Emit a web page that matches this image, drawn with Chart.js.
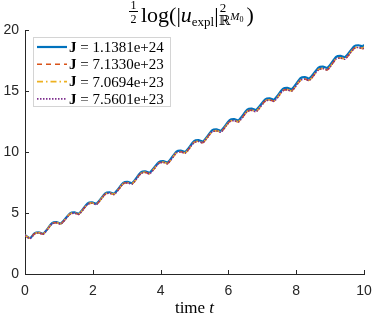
<!DOCTYPE html>
<html>
<head>
<meta charset="utf-8">
<script src="https://cdn.jsdelivr.net/npm/chart.js@4/dist/chart.umd.min.js"></script>
<style>
    html, body { margin: 0; padding: 0; background: #fff; }
    #wrap { width: 374px; height: 321px; position: relative; }
</style>
</head>
<body>
<div id="wrap"><canvas id="growth-chart"></canvas></div>
<script>
// time samples (shared by all four runs)
const times = [
    0, 0.15,
    0.28, 0.41, 0.54,
    0.80, 0.93, 1.06,
    1.33, 1.46, 1.59,
    1.85, 1.98, 2.11,
    2.37, 2.50, 2.63,
    2.90, 3.03, 3.16,
    3.42, 3.55, 3.68,
    3.95, 4.08, 4.21,
    4.47, 4.60, 4.73,
    4.99, 5.12, 5.25,
    5.52, 5.65, 5.78,
    6.04, 6.17, 6.30,
    6.56, 6.69, 6.82,
    7.09, 7.22, 7.35,
    7.61, 7.74, 7.87,
    8.13, 8.26, 8.39,
    8.66, 8.79, 8.92,
    9.18, 9.31, 9.44,
    9.71, 9.84, 9.97,
    10.0
];

// 1/2 log(|u_expl|^2) for each J
const seriesJ1 = [
    3.20, 2.95,
    3.33, 3.41, 3.31,
    4.17, 4.25, 4.15,
    4.97, 5.05, 4.95,
    5.79, 5.87, 5.77,
    6.62, 6.70, 6.60,
    7.47, 7.55, 7.45,
    8.33, 8.41, 8.31,
    9.17, 9.25, 9.15,
    10.04, 10.12, 10.02,
    10.89, 10.97, 10.87,
    11.77, 11.85, 11.75,
    12.62, 12.70, 12.60,
    13.47, 13.55, 13.45,
    14.32, 14.40, 14.30,
    15.17, 15.25, 15.15,
    16.05, 16.13, 16.03,
    16.92, 17.00, 16.90,
    17.80, 17.88, 17.78,
    18.67, 18.75, 18.65,
    18.80
];
const seriesJ2 = [
    3.18, 2.92,
    3.30, 3.38, 3.28,
    4.13, 4.21, 4.11,
    4.92, 5.00, 4.90,
    5.73, 5.81, 5.71,
    6.55, 6.63, 6.53,
    7.40, 7.48, 7.38,
    8.25, 8.33, 8.23,
    9.08, 9.16, 9.06,
    9.94, 10.02, 9.92,
    10.79, 10.87, 10.77,
    11.66, 11.74, 11.64,
    12.50, 12.58, 12.48,
    13.34, 13.42, 13.32,
    14.19, 14.27, 14.17,
    15.03, 15.11, 15.01,
    15.90, 15.98, 15.88,
    16.76, 16.84, 16.74,
    17.64, 17.72, 17.62,
    18.50, 18.58, 18.48,
    18.62
];
const seriesJ3 = [
    3.19, 2.93,
    3.31, 3.39, 3.29,
    4.14, 4.22, 4.12,
    4.93, 5.01, 4.91,
    5.74, 5.82, 5.72,
    6.56, 6.64, 6.54,
    7.41, 7.49, 7.39,
    8.26, 8.34, 8.24,
    9.09, 9.17, 9.07,
    9.95, 10.03, 9.93,
    10.80, 10.88, 10.78,
    11.67, 11.75, 11.65,
    12.51, 12.59, 12.49,
    13.35, 13.43, 13.33,
    14.20, 14.28, 14.18,
    15.04, 15.12, 15.02,
    15.91, 15.99, 15.89,
    16.77, 16.85, 16.75,
    17.65, 17.73, 17.63,
    18.51, 18.59, 18.49,
    18.63
];
const seriesJ4 = [
    3.17, 2.91,
    3.29, 3.37, 3.27,
    4.12, 4.20, 4.10,
    4.91, 4.99, 4.89,
    5.72, 5.80, 5.70,
    6.54, 6.62, 6.52,
    7.39, 7.47, 7.37,
    8.24, 8.32, 8.22,
    9.07, 9.15, 9.05,
    9.93, 10.01, 9.91,
    10.78, 10.86, 10.76,
    11.65, 11.73, 11.63,
    12.49, 12.57, 12.47,
    13.33, 13.41, 13.31,
    14.18, 14.26, 14.16,
    15.02, 15.10, 15.00,
    15.89, 15.97, 15.87,
    16.75, 16.83, 16.73,
    17.63, 17.71, 17.61,
    18.49, 18.57, 18.47,
    18.61
];

const jValues = ['1.1381e+24', '7.1330e+23', '7.0694e+23', '7.5601e+23'];
const xTicks = [0, 2, 4, 6, 8, 10];
const yTicks = [0, 5, 10, 15, 20];

const SERIF = '"Liberation Serif", "DejaVu Serif", serif';
const SANS = '"Liberation Sans", Arial, sans-serif';
const AXIS_COLOR = '#262626';

function toPoints(values) {
    return times.map((t, i) => ({ x: t, y: values[i] }));
}

// MATLAB-style inward ticks on left and bottom axes
const inwardTicks = {
    id: 'inwardTicks',
    afterDraw(chart) {
        const { ctx, chartArea, scales } = chart;
        ctx.save();
        ctx.strokeStyle = AXIS_COLOR;
        ctx.lineWidth = 1;
        ctx.beginPath();
        xTicks.forEach(v => {
            const px = Math.round(scales.x.getPixelForValue(v)) + 0.5;
            ctx.moveTo(px, chartArea.bottom);
            ctx.lineTo(px, chartArea.bottom - 4);
        });
        yTicks.forEach(v => {
            const py = Math.round(scales.y.getPixelForValue(v)) + 0.5;
            ctx.moveTo(chartArea.left, py);
            ctx.lineTo(chartArea.left + 4, py);
        });
        ctx.stroke();
        ctx.restore();
    }
};

// title and x label with LaTeX-ish math
const mathText = {
    id: 'mathText',
    afterDraw(chart) {
        const ctx = chart.ctx;
        ctx.save();
        ctx.fillStyle = '#000';
        ctx.textBaseline = 'alphabetic';

        // 1/2 fraction
        ctx.font = `12px ${SERIF}`;
        ctx.textAlign = 'center';
        ctx.fillText('1', 133.5, 9);
        ctx.fillRect(129, 11, 9, 1);
        ctx.fillText('2', 133.5, 23);

        ctx.textAlign = 'left';
        const base = 22;
        let x = 141;
        const put = (txt, font, dy) => {
            ctx.font = font;
            ctx.fillText(txt, x, base + dy);
            x += ctx.measureText(txt).width;
        };
        put('log(|', `22px ${SERIF}`, 0);
        put('u', `italic 22px ${SERIF}`, 0);
        put('expl', `13px ${SERIF}`, 4);
        put('|', `22px ${SERIF}`, 0);
        ctx.font = `13px ${SERIF}`;
        ctx.fillText('2', x + 1, base - 10);
        put('\u211D', `14px ${SERIF}`, 3);
        put('M', `italic 11px ${SERIF}`, -2);
        put('0', `8px ${SERIF}`, 0);
        x += 3;
        put(')', `22px ${SERIF}`, 0);

        // x axis label
        ctx.font = `17px ${SERIF}`;
        const w1 = ctx.measureText('time ').width;
        ctx.font = `italic 17px ${SERIF}`;
        const w2 = ctx.measureText('t').width;
        const cx = (chart.chartArea.left + chart.chartArea.right) / 2;
        let lx = cx - (w1 + w2) / 2;
        ctx.font = `17px ${SERIF}`;
        ctx.fillText('time ', lx, 313);
        ctx.font = `italic 17px ${SERIF}`;
        ctx.fillText('t', lx + w1, 313);
        ctx.restore();
    }
};

// legend box inside the plot, top-left
const boxLegend = {
    id: 'boxLegend',
    afterDatasetsDraw(chart) {
        const ctx = chart.ctx;
        const box = { x: 33.5, y: 37.5, w: 137, h: 69 };
        ctx.save();
        ctx.fillStyle = '#fff';
        ctx.fillRect(box.x, box.y, box.w, box.h);
        ctx.strokeStyle = '#d4d4d4';
        ctx.lineWidth = 1;
        ctx.strokeRect(box.x, box.y, box.w, box.h);
        chart.data.datasets.forEach((ds, i) => {
            const rowY = 47 + i * 17.3;
            ctx.strokeStyle = ds.borderColor;
            ctx.lineWidth = ds.borderWidth;
            ctx.setLineDash(ds.borderDash || []);
            ctx.beginPath();
            ctx.moveTo(37, rowY);
            ctx.lineTo(67, rowY);
            ctx.stroke();
            ctx.setLineDash([]);
            ctx.fillStyle = '#000';
            ctx.textBaseline = 'middle';
            ctx.font = `bold 15px ${SERIF}`;
            ctx.fillText('J', 69, rowY + 1);
            const jw = ctx.measureText('J').width;
            ctx.font = `15px ${SERIF}`;
            ctx.fillText(' = ' + jValues[i], 69 + jw, rowY + 1);
        });
        ctx.restore();
    }
};

const ctx = document.getElementById('growth-chart').getContext('2d');
new Chart(ctx, {
    type: 'line',
    data: {
        datasets: [
            { label: 'J = ' + jValues[0], data: toPoints(seriesJ1), borderColor: '#0072BD', borderWidth: 2.2, order: 3 },
            { label: 'J = ' + jValues[1], data: toPoints(seriesJ2), borderColor: '#D95319', borderWidth: 1.6, borderDash: [5, 4], order: 2 },
            { label: 'J = ' + jValues[2], data: toPoints(seriesJ3), borderColor: '#EDB120', borderWidth: 1.6, borderDash: [6, 3, 1.5, 3], order: 1 },
            { label: 'J = ' + jValues[3], data: toPoints(seriesJ4), borderColor: '#7E2F8E', borderWidth: 1.6, borderDash: [1.5, 1.5], order: 0 }
        ]
    },
    options: {
        responsive: true,
        maintainAspectRatio: false,
        animation: false,
        layout: { padding: { top: 30, right: 10, left: 0, bottom: 0 } },
        elements: { point: { radius: 0 }, line: { tension: 0.25, fill: false } },
        plugins: {
            legend: { display: false },
            tooltip: { enabled: false },
            title: { display: false }
        },
        scales: {
            x: {
                type: 'linear',
                min: 0,
                max: 10,
                afterBuildTicks: scale => { scale.ticks = xTicks.map(v => ({ value: v })); },
                afterFit: scale => {
                    scale.height = 47;
                    scale.paddingLeft = 0;
                    scale.paddingRight = 0;
                },
                grid: { display: false, drawTicks: false },
                border: { display: true, color: AXIS_COLOR, width: 1 },
                ticks: { color: AXIS_COLOR, font: { family: SANS, size: 14 }, padding: 9, maxRotation: 0 }
            },
            y: {
                type: 'linear',
                min: 0,
                max: 20,
                afterBuildTicks: scale => { scale.ticks = yTicks.map(v => ({ value: v })); },
                afterFit: scale => {
                    scale.width = 25;
                    scale.paddingTop = 0;
                    scale.paddingBottom = 0;
                },
                grid: { display: false, drawTicks: false },
                border: { display: true, color: AXIS_COLOR, width: 1 },
                ticks: { color: AXIS_COLOR, font: { family: SANS, size: 14 }, padding: 6 }
            }
        }
    },
    plugins: [inwardTicks, mathText, boxLegend]
});
</script>
</body>
</html>
